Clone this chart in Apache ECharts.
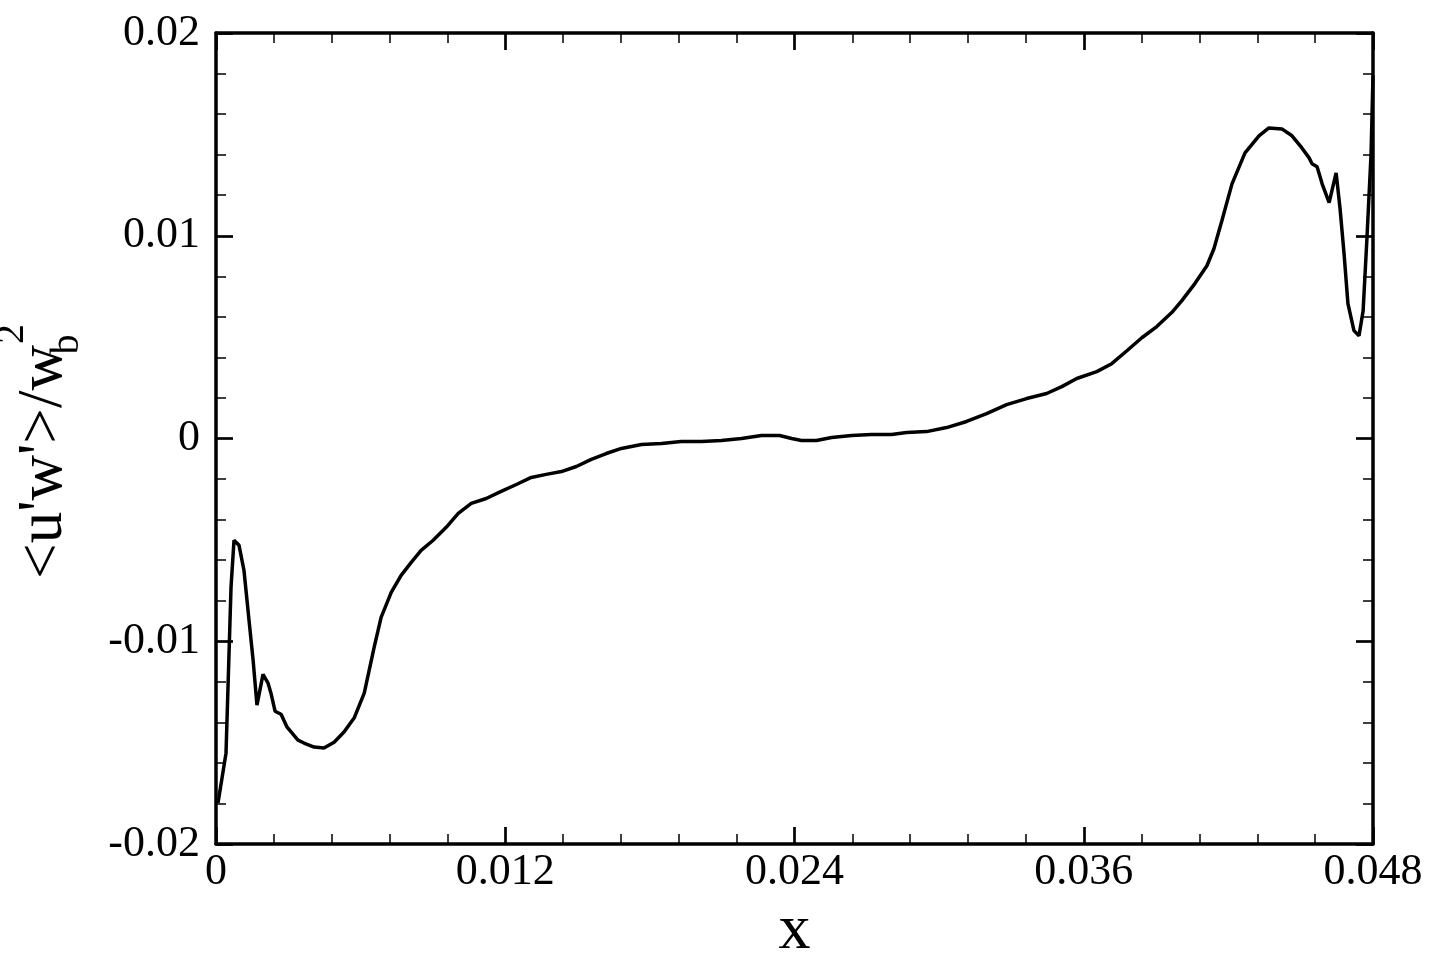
<!DOCTYPE html>
<html>
<head>
<meta charset="utf-8">
<script src="https://cdn.jsdelivr.net/npm/echarts@6/dist/echarts.min.js"></script>
<style>
html,body{margin:0;padding:0;background:#fff;overflow:hidden;}
#chart{width:1440px;height:960px;}
</style>
</head>
<body>
<div id="chart"></div>
<script>
// Data
const xValues = [0.000083,0.000415,0.000623,0.000747,0.000955,0.00116,0.00137,0.00154,0.0017,0.00195,0.00216,0.00228,0.00245,0.0027,0.00295,0.0034,0.00365,0.00407,0.00448,0.0049,0.00531,0.00573,0.00615,0.00656,0.00685,0.00727,0.00768,0.0081,0.00851,0.00901,0.00955,0.01005,0.01059,0.01121,0.01183,0.01246,0.01308,0.0137,0.01433,0.01495,0.01557,0.01619,0.01682,0.01765,0.01848,0.0193,0.02014,0.02097,0.0218,0.02263,0.02338,0.02388,0.02429,0.02491,0.02554,0.02637,0.0272,0.02803,0.02865,0.02948,0.03031,0.03114,0.03197,0.0328,0.03363,0.03446,0.03509,0.03571,0.03654,0.03716,0.03779,0.03841,0.03903,0.03965,0.04007,0.04061,0.04111,0.0414,0.04173,0.04215,0.04269,0.04327,0.04368,0.04422,0.04464,0.04505,0.04535,0.04547,0.04568,0.04589,0.04618,0.04647,0.04663,0.0468,0.04696,0.04721,0.04742,0.04759,0.04775,0.04792,0.048];
const yValues = [-0.01798,-0.01552,-0.00734,-0.00502,-0.00527,-0.0065,-0.00897,-0.01094,-0.01315,-0.01163,-0.01207,-0.01256,-0.01345,-0.0136,-0.01424,-0.01488,-0.01502,-0.01522,-0.01527,-0.01498,-0.01448,-0.01379,-0.01256,-0.0103,-0.00882,-0.00759,-0.00675,-0.00611,-0.00552,-0.00502,-0.00438,-0.00369,-0.0032,-0.00296,-0.00261,-0.00227,-0.00192,-0.00177,-0.00163,-0.00138,-0.00103,-0.00074,-0.00049,-0.0003,-0.00025,-0.00015,-0.00015,-0.0001,0,0.00015,0.00015,0,-0.0001,-0.0001,0.00005,0.00015,0.0002,0.0002,0.0003,0.00034,0.00054,0.00084,0.00123,0.00167,0.00197,0.00222,0.00256,0.00296,0.0033,0.00369,0.00433,0.00497,0.00552,0.00621,0.0068,0.00764,0.00852,0.00936,0.01074,0.01256,0.01409,0.01493,0.01532,0.01527,0.01493,0.01433,0.01384,0.01355,0.0134,0.01256,0.01163,0.0131,0.01138,0.00911,0.00665,0.00532,0.00507,0.0063,0.0099,0.01404,0.0179];
const xTickLabels = ['0','0.012','0.024','0.036','0.048'];
const yTickLabels = ['-0.02','-0.01','0','0.01','0.02'];
const xTitle = 'x';
const yTitleMain = "<u'w'>/w";
const yTitleSub = 'b';
const yTitleSup = '2';

const FONT = 'Liberation Serif';
const seriesData = xValues.map((x, i) => [x, yValues[i]]);

function xFmt(v){ const i = Math.round(v / 0.012); return xTickLabels[i] !== undefined ? xTickLabels[i] : ''; }
function yFmt(v){ const i = Math.round(v / 0.01) + 2; return yTickLabels[i] !== undefined ? yTickLabels[i] : ''; }

const frameStyle = { color: '#000', width: 3.5 };
const majorTick = { show: true, inside: true, length: 17, lineStyle: { color: '#000', width: 2.7 } };
const minorTick = { show: true, splitNumber: 5, length: 10, lineStyle: { color: '#000', width: 1.5 } };

const baseX = {
  type: 'value', min: 0, max: 0.048, interval: 0.012,
  axisLine: { show: true, onZero: false, lineStyle: frameStyle },
  axisTick: majorTick, minorTick, splitLine: { show: false }
};
const baseY = {
  type: 'value', min: -0.02, max: 0.02, interval: 0.01,
  axisLine: { show: true, onZero: false, lineStyle: frameStyle },
  axisTick: majorTick, minorTick, splitLine: { show: false }
};

const chart = echarts.init(document.getElementById('chart'), null, { renderer: 'canvas' });
chart.setOption({
  animation: false,
  backgroundColor: '#fff',
  grid: { left: 216, right: 67, top: 33, bottom: 116, containLabel: false, outerBoundsMode: 'none' },
  xAxis: [
    Object.assign({}, baseX, {
      position: 'bottom',
      name: xTitle, nameLocation: 'middle', nameGap: 52,
      nameTextStyle: { fontFamily: FONT, fontSize: 64, color: '#000' },
      axisLabel: { show: true, formatter: xFmt, fontFamily: FONT, fontSize: 44, color: '#000', margin: 6, showMinLabel: true, showMaxLabel: true }
    }),
    Object.assign({}, baseX, { position: 'top', axisLabel: { show: false } })
  ],
  yAxis: [
    Object.assign({}, baseY, {
      position: 'left',
      name: '{m|' + yTitleMain + '}{sub|' + yTitleSub + '}{sup|' + yTitleSup + '}',
      nameLocation: 'middle', nameGap: 107, nameRotate: 90,
      nameTextStyle: {
        fontFamily: FONT, fontSize: 63, color: '#000',
        padding: [0, 26, 0, 0],
        rich: {
          m: { fontFamily: FONT, fontSize: 63, color: '#000', lineHeight: 63 },
          sub: { fontFamily: FONT, fontSize: 40, color: '#000', lineHeight: 40, width: 1, padding: [45, 0, 0, 0] },
          sup: { fontFamily: FONT, fontSize: 40, color: '#000', lineHeight: 40, padding: [0, 0, 65, 0] }
        }
      },
      axisLabel: { show: true, formatter: yFmt, fontFamily: FONT, fontSize: 44, color: '#000', margin: 16, showMinLabel: true, showMaxLabel: true }
    }),
    Object.assign({}, baseY, { position: 'right', axisLabel: { show: false } })
  ],
  series: [{
    type: 'line', xAxisIndex: 0, yAxisIndex: 0,
    data: seriesData, showSymbol: false, symbol: 'none',
    smooth: false,
    lineStyle: { color: '#000', width: 3.5 }
  }]
});
</script>
</body>
</html>
